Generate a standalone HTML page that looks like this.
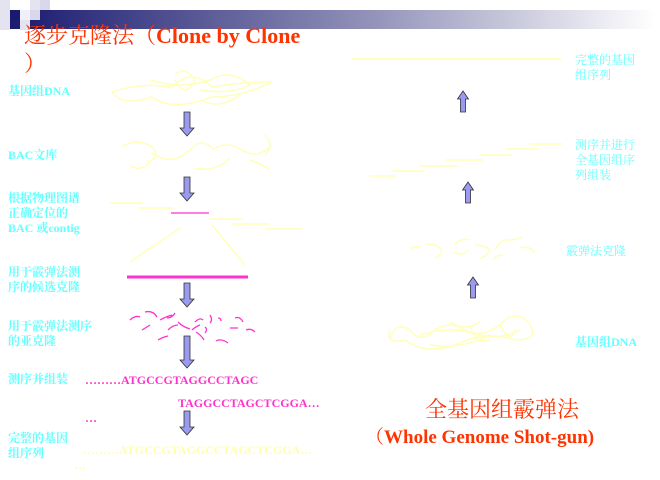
<!DOCTYPE html>
<html><head><meta charset="utf-8"><style>
body{margin:0;width:660px;height:480px;background:#fff;overflow:hidden;position:relative;font-family:"Liberation Serif","Noto Serif CJK SC",serif}
.t{position:absolute;white-space:nowrap}
.c{color:#66ffff;font-size:12px;line-height:15px;font-weight:bold}
</style></head><body>
<svg width="660" height="480" style="position:absolute;left:0;top:0">
<defs><linearGradient id="g" x1="0" x2="1"><stop offset="0" stop-color="#1a1a70"/><stop offset="0.55" stop-color="#9090b8"/><stop offset="1" stop-color="#ffffff"/></linearGradient>
<g id="ad"><path d="M-3,0 h6 v16 h4 l-7,8 l-7,-8 h4z" fill="#9a9af0" stroke="#333" stroke-width="0.8"/></g>
<g id="ad2"><path d="M-3,0 h6 v24 h4 l-7,8 l-7,-8 h4z" fill="#9a9af0" stroke="#333" stroke-width="0.8"/></g>
<g id="au"><path d="M-2.5,21 h5 v-13 h3 l-5.5,-8 l-5.5,8 h3z" fill="#9a9af0" stroke="#333" stroke-width="0.8"/></g>
</defs>
<rect x="10" y="10" width="645" height="19" fill="url(#g)"/>
<rect x="0" y="0" width="10" height="10" fill="#e4e4f0"/>
<rect x="30" y="0" width="10" height="10" fill="#e4e4f0"/>
<rect x="40" y="0" width="10" height="10" fill="#d8d8ea"/>
<rect x="0" y="10" width="10" height="10" fill="#e4e4f0"/>
<rect x="20" y="10" width="10" height="10" fill="#f0f0f8"/>
<rect x="30" y="10" width="10" height="10" fill="#d8d8ea"/>
<rect x="10" y="10" width="10" height="10" fill="#1a1a70"/>
<rect x="0" y="20" width="10" height="10" fill="#e4e4f0"/>
<rect x="20" y="20" width="10" height="10" fill="#e4e4f0"/>
<g fill="none" stroke="#ffffbb" stroke-width="1.5">
<path d="M112,92 q30,-10 60,-5 q20,-20 40,0 q30,-5 60,-5 q-30,15 -60,15 q-40,15 -60,0 q-30,10 -40,-5 M150,80 q30,10 60,0 q20,-12 40,5 q-20,10 -50,5 M175,75 q10,-10 20,5 q-10,20 -20,0 M200,100 q20,10 40,-5"/>
<path d="M122,147 q15,-10 30,0 q10,10 -5,15 M152,153 q20,15 40,-5 q10,-10 20,0 M212,150 q15,-10 30,0 q15,10 30,-5 M130,165 q10,8 20,-3 M195,168 q20,5 35,-10 M250,160 q15,5 20,10 M265,135 q10,10 0,20"/>
<path d="M110,203 h33 M138,208 h35 M210,219 h33 M232,224 h38 M265,229 h37 M180,228 L130,262 M212,225 L245,265"/>
<path d="M352,59 H561" stroke-width="2"/>
<path d="M369,176 h27 M391,171 h33 M419,166 h39 M446,160 h37 M479,155 h33 M506,149 h33 M529,144 h33"/>
<path d="M410,250 q5,-5 10,-3 M425,245 q8,-3 15,3 q5,5 -5,10 M455,245 q5,-8 15,-5 M453,252 q10,5 15,-2 M475,245 q10,0 15,5 q-5,8 -10,8 M495,250 q5,-10 12,-10 q10,0 15,-3 M520,248 q10,-3 15,5 M493,260 q3,-5 10,-5"/>
<path d="M390,340 q5,-20 20,-10 q10,15 25,0 q15,-10 30,0 q20,10 40,-10 q15,-10 25,5 q10,15 -15,15 q-30,-10 -60,5 q-30,10 -50,-5 q-20,5 -15,-10 M420,335 q30,-10 60,0 q20,5 40,-5 M430,345 q30,5 60,-10 M470,325 q5,20 20,15 M500,325 q10,20 15,5 M450,322 q15,10 30,0"/>
</g>
<path d="M171,213 H209" stroke="#ff33cc" stroke-width="1.3"/>
<path d="M127,277 H248" stroke="#ff33cc" stroke-width="3"/>
<g fill="none" stroke="#ff33cc" stroke-width="1.3">
<path d="M130,320 q5,-5 10,-3 M145,312 q8,-2 12,5 M160,320 q5,-3 12,-5 M167,318 q5,0 8,-5 M178,322 q5,5 12,7 M195,322 q5,-5 8,-2 M210,315 q3,5 0,8 M218,318 q3,0 3,3 M235,318 q5,-2 8,4 M142,330 q5,-3 8,-5 M168,330 q5,-5 10,-5 M192,330 q3,-3 8,-5 M205,327 q3,2 0,6 M230,328 h8 M246,330 q5,-2 9,2 M158,340 q5,-3 10,-4 M196,332 q5,3 8,8 M216,341 q5,-3 12,2"/>
</g>
<use href="#ad" x="187" y="112"/>
<use href="#ad" x="187" y="177"/>
<use href="#ad" x="187" y="283"/>
<use href="#ad2" x="187" y="336"/>
<use href="#ad" x="187" y="411"/>
<use href="#au" x="463" y="91"/>
<use href="#au" x="468" y="182"/>
<use href="#au" x="473" y="277"/>
</svg>
<div class="t" style="left:24px;top:19px;font-size:22px;color:#ff3300;font-weight:bold"><span style="font-weight:normal">逐步克隆法（</span>Clone by Clone</div>
<div class="t" style="left:24px;top:47px;font-size:22px;color:#ff3300">）</div>
<div class="t c" style="left:8px;top:84px">基因组DNA</div>
<div class="t c" style="left:8px;top:148px">BAC文库</div>
<div class="t c" style="left:8px;top:191px">根据物理图谱<br>正确定位的<br>BAC 或contig</div>
<div class="t c" style="left:8px;top:265px">用于霰弹法测<br>序的候选克隆</div>
<div class="t c" style="left:8px;top:319px">用于霰弹法测序<br>的亚克隆</div>
<div class="t c" style="left:8px;top:372px">测序并组装</div>
<div class="t c" style="left:8px;top:431px">完整的基因<br>组序列</div>
<div class="t" style="left:85px;top:373px;font-size:12px;font-weight:bold;color:#ff33cc">………ATGCCGTAGGCCTAGC</div>
<div class="t" style="left:178px;top:396px;font-size:12px;font-weight:bold;color:#ff33cc">TAGGCCTAGCTCGGA…</div>
<div class="t" style="left:85px;top:411px;font-size:12px;font-weight:bold;color:#ff33cc">…</div>
<div class="t" style="left:83px;top:443px;font-size:12px;font-weight:bold;color:#ffffaa">………ATGCCGTAGGCCTAGCTCGGA…</div>
<div class="t" style="left:74px;top:458px;font-size:12px;font-weight:bold;color:#ffffaa">…</div>
<div class="t c" style="left:575px;top:53px;font-weight:normal">完整的基因<br>组序列</div>
<div class="t c" style="left:575px;top:138px;font-weight:normal">测序并进行<br>全基因组序<br>列组装</div>
<div class="t c" style="left:566px;top:244px;font-weight:normal">霰弹法克隆</div>
<div class="t c" style="left:575px;top:335px">基因组DNA</div>
<div class="t" style="left:425px;top:393px;font-size:22px;color:#ff3300">全基因组霰弹法</div>
<div class="t" style="left:365px;top:422px;font-size:19px;color:#ff3300;font-weight:bold"><span style="font-weight:normal">（</span>Whole Genome Shot-gun)</div>
</body></html>
